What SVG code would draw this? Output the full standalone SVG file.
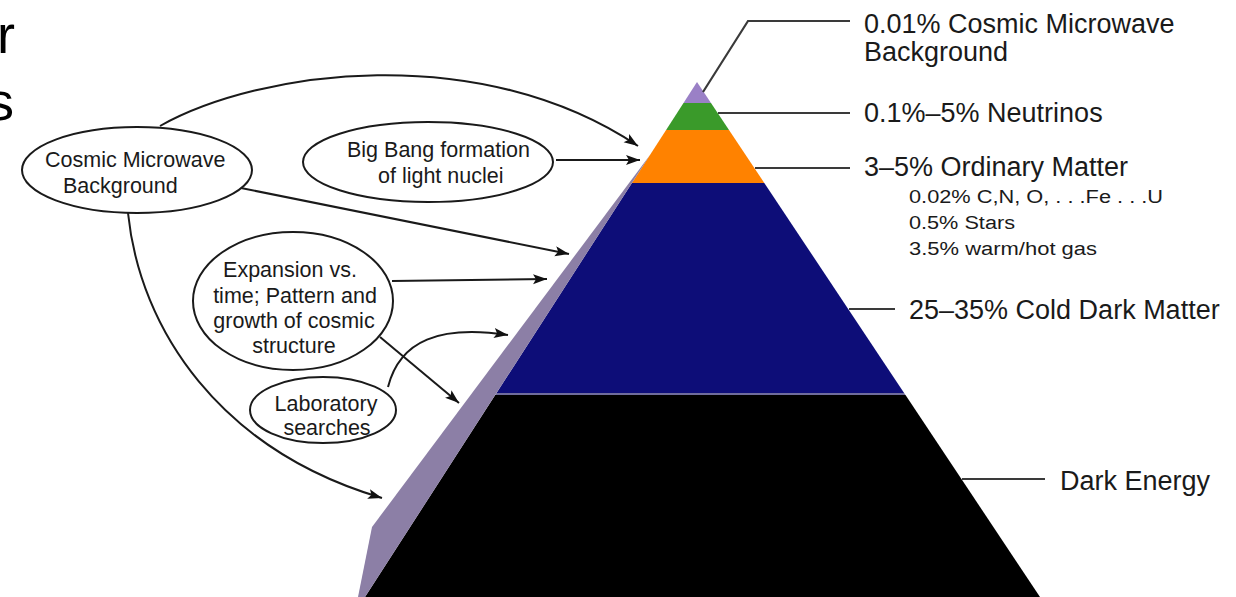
<svg xmlns="http://www.w3.org/2000/svg" width="1236" height="597" viewBox="0 0 1236 597">
  <defs>
    <marker id="arrow" markerUnits="userSpaceOnUse" markerWidth="16" markerHeight="12" refX="14" refY="5" orient="auto">
      <path d="M0,0 L14,5 L0,10 L3,5 Z" fill="#111"/>
    </marker>
    <style>
      .lbl { font-family: "Liberation Sans", Arial, sans-serif; fill: #1a1a1a; }
      .big { font-size: 27px; }
      .sub { font-size: 18px; }
      .node-text { font-family: "Liberation Sans", Arial, sans-serif; font-size: 21.5px; fill: #1a1a1a; }
      .oval { fill: none; stroke: #1a1a1a; stroke-width: 2; }
      .conn { fill: none; stroke: #1a1a1a; stroke-width: 2; }
      .leader { fill: none; stroke: #3a3a3a; stroke-width: 2.2; }
    </style>
  </defs>
  <rect width="1236" height="597" fill="#ffffff"/>

  <!-- cut-off slide text -->
  <text x="15" y="53" text-anchor="end" font-family="Liberation Sans, Arial, sans-serif" font-size="54" fill="#000">r</text>
  <text x="14" y="120" text-anchor="end" font-family="Liberation Sans, Arial, sans-serif" font-size="54" fill="#000">s</text>

  <!-- pyramid -->
  <g id="pyramid">
    <polygon id="band-cmb" points="697,82 711,103 683.5,103" fill="#9a80c6"/>
    <polygon id="band-neutrinos" points="683.5,103 711,103 729,130 666.1,130" fill="#3a9a2a"/>
    <polygon id="band-ordinary" points="666.1,130 729,130 764.3,183 631.9,183" fill="#ff8200"/>
    <polygon id="band-cdm" points="631.9,183 764.3,183 904.1,393 496.5,393" fill="#0d0d78"/>
    <polygon points="496.5,393 904.1,393 905.5,395 495.2,395" fill="#6f6c9c"/>
    <polygon id="band-de" points="495.2,395 905.5,395 1040,597 365,597" fill="#000000"/>
    <polygon id="side-face" points="650,155 372,527 358,597 365,597" fill="#8c7fa6"/>
  </g>

  <!-- connectors -->
  <g id="connectors">
    <path class="conn" d="M160,126 C260,70 480,40 638,146" marker-end="url(#arrow)"/>
    <path class="conn" d="M556,160 L640,160" marker-end="url(#arrow)"/>
    <path class="conn" d="M241,188 L569,254" marker-end="url(#arrow)"/>
    <path class="conn" d="M128,213 C140,330 220,450 382,498" marker-end="url(#arrow)"/>
    <path class="conn" d="M392,281 L547,279" marker-end="url(#arrow)"/>
    <path class="conn" d="M380,337 L459,403" marker-end="url(#arrow)"/>
    <path class="conn" d="M388,387 C400,340 440,325 508,335" marker-end="url(#arrow)"/>
    <!-- leaders -->
    <path class="leader" d="M703,92 L748,21 L850,21"/>
    <path class="leader" d="M718,113 L850,113"/>
    <path class="leader" d="M755,168 L850,168"/>
    <path class="leader" d="M849,309 L895,309"/>
    <path class="leader" d="M962,479 L1045,479"/>
  </g>

  <!-- left nodes -->
  <g id="node-cmb">
    <ellipse class="oval" cx="137" cy="170" rx="115" ry="43"/>
    <text class="node-text" x="45" y="167">Cosmic Microwave</text>
    <text class="node-text" x="63" y="193">Background</text>
  </g>
  <g id="node-bigbang">
    <ellipse class="oval" cx="428" cy="162" rx="125" ry="40"/>
    <text class="node-text" x="347" y="157">Big Bang formation</text>
    <text class="node-text" x="378" y="183">of light nuclei</text>
  </g>
  <g id="node-expansion">
    <ellipse class="oval" cx="293" cy="301" rx="100" ry="69"/>
    <text class="node-text" x="290" y="277" text-anchor="middle">Expansion vs.</text>
    <text class="node-text" x="295" y="303" text-anchor="middle">time; Pattern and</text>
    <text class="node-text" x="294" y="328" text-anchor="middle">growth of cosmic</text>
    <text class="node-text" x="294" y="353" text-anchor="middle">structure</text>
  </g>
  <g id="node-lab">
    <ellipse class="oval" cx="323" cy="410" rx="73" ry="33"/>
    <text class="node-text" x="326" y="411" text-anchor="middle">Laboratory</text>
    <text class="node-text" x="327" y="435" text-anchor="middle">searches</text>
  </g>

  <!-- right labels -->
  <g id="label-cmb">
    <text class="lbl big" x="864" y="33">0.01% Cosmic Microwave</text>
    <text class="lbl big" x="864" y="61">Background</text>
  </g>
  <g id="label-neutrinos">
    <text class="lbl big" x="864" y="122">0.1%–5% Neutrinos</text>
  </g>
  <g id="label-ordinary">
    <text class="lbl big" x="864" y="176">3–5% Ordinary Matter</text>
    <text class="lbl sub" x="909" y="203" textLength="254" lengthAdjust="spacingAndGlyphs">0.02% C,N, O, . . .Fe . . .U</text>
    <text class="lbl sub" x="909" y="229" textLength="106" lengthAdjust="spacingAndGlyphs">0.5% Stars</text>
    <text class="lbl sub" x="909" y="255" textLength="188" lengthAdjust="spacingAndGlyphs">3.5% warm/hot gas</text>
  </g>
  <g id="label-cdm">
    <text class="lbl big" x="909" y="319">25–35% Cold Dark Matter</text>
  </g>
  <g id="label-de">
    <text class="lbl big" x="1060" y="490">Dark Energy</text>
  </g>
</svg>
